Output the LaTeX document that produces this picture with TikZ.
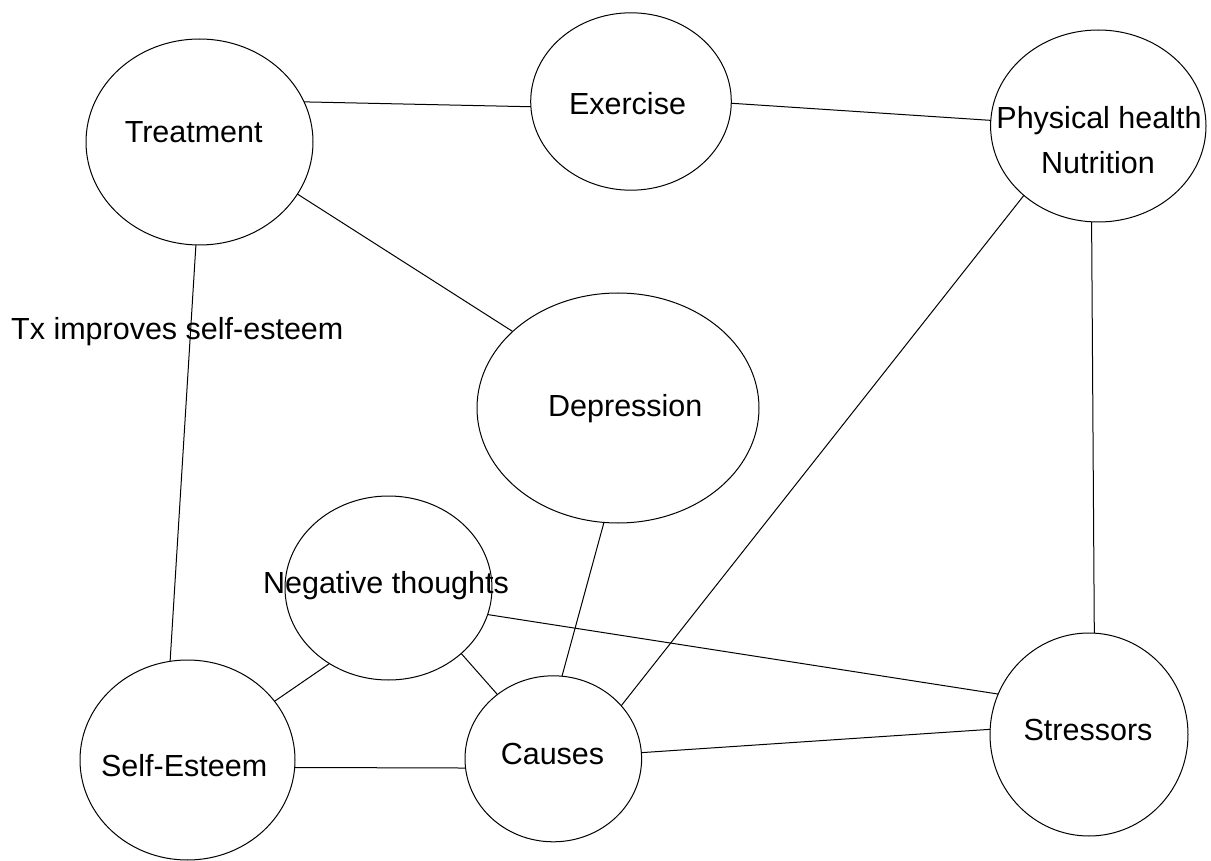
\documentclass[tikz,border=0pt]{standalone}
\usepackage{fontspec}
\setmainfont{Liberation Sans}
\usetikzlibrary{shapes.geometric}
\begin{document}
\begin{tikzpicture}[x=1pt,y=-1pt,
  bub/.style={ellipse, draw=black, line width=1pt, inner sep=0pt, outer sep=0pt},
  lbl/.style={font=\fontsize{30.5}{36}\selectfont, text=black, anchor=base, inner sep=0pt},
  link/.style={draw=black, line width=1pt}]
\useasboundingbox[fill=white] (0,0) rectangle (1211,861);
% bubbles
\node[bub, minimum width=227pt, minimum height=206pt] (tr) at (199.5,142) {};
\node[bub, minimum width=200.6pt, minimum height=177.4pt] (ex) at (631,101.5) {};
\node[bub, minimum width=215.4pt, minimum height=192pt] (ph) at (1098.3,126) {};
\node[bub, minimum width=282pt, minimum height=230pt] (dep) at (618,408) {};
\node[bub, minimum width=207pt, minimum height=184pt] (nt) at (388.5,588) {};
\node[bub, minimum width=215pt, minimum height=200pt] (se) at (187.5,760) {};
\node[bub, minimum width=176.6pt, minimum height=166pt] (ca) at (553.3,758.8) {};
\node[bub, minimum width=198pt, minimum height=203pt] (st) at (1089,734.5) {};
% connectors
\draw[link] (tr.21) -- (ex.183);
\draw[link] (ex.-1) -- (ph.177);
\draw[link] (tr.-28) -- (dep.144);
\draw[link] (tr.-92) -- (se.100);
\draw[link] (ph.-137) -- (ca.38);
\draw[link] (ph.-94) -- (st.87);
\draw[link] (dep.-97) -- (ca.84);
\draw[link] (nt.-15) -- (st.156);
\draw[link] (nt.-128) -- (se.34);
\draw[link] (nt.-42) -- (ca.131);
\draw[link] (se.-4) -- (ca.186);
\draw[link] (ca.4) -- (st.177);
% texts
\node[lbl] (trt) at (193.7,142.7) {Treatment};
\node[lbl] (ext) at (627.5,115) {Exercise};
\node[lbl] (pht1) at (1099,128.3) {Physical health};
\node[lbl] (pht2) at (1098,173.3) {Nutrition};
\node[lbl] (dept) at (625.3,416.7) {Depression};
\node[lbl] (ntt) at (386,593.3) {Negative thoughts};
\node[lbl] (cat) at (552.5,764) {Causes};
\node[lbl] (set) at (184.2,776) {Self-Esteem};
\node[lbl] (stt) at (1088,740) {Stressors};
\node[lbl, anchor=base west] (tx) at (11,339.3) {Tx improves self-esteem};
\end{tikzpicture}
\end{document}
